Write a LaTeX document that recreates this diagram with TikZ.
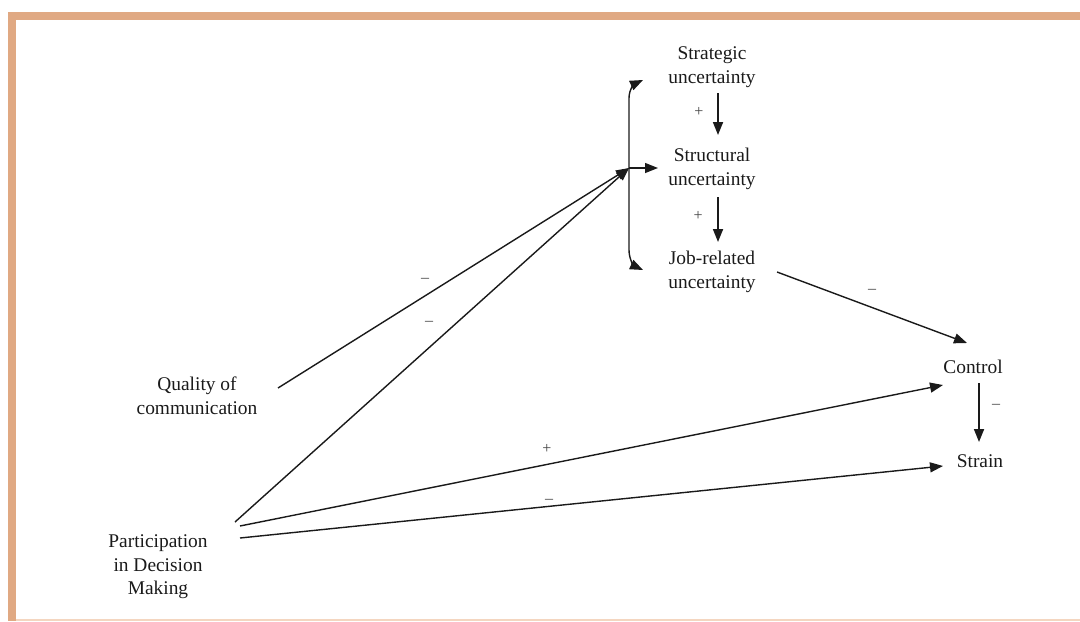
\documentclass[tikz,border=0pt]{standalone}
\usepackage{fontspec}
\setmainfont{Liberation Serif}
\usetikzlibrary{arrows.meta,calc}
\definecolor{frame}{HTML}{E0A983}
\definecolor{framelight}{HTML}{F4D6C0}
\definecolor{ink}{HTML}{1A1A1A}
\definecolor{labelink}{HTML}{444444}
\begin{document}
\begin{tikzpicture}[x=0.5pt,y=-0.5pt,
  concept/.style={align=center,inner sep=0pt,text=ink,font=\fontsize{9.7}{11.8}\selectfont},
  sign/.style={inner sep=0pt,text=labelink,font=\fontsize{8}{8}\selectfont},
  link/.style={draw=ink,line width=0.7pt,-{Triangle[length=6.5pt,width=5pt]}},
  vlink/.style={draw=ink,line width=0.9pt,-{Triangle[length=6.5pt,width=5pt]}}]
\useasboundingbox (0,0) rectangle (1080,621);
% frame
\fill[frame] (8,12) rectangle (1080,20);
\fill[frame] (8,12) rectangle (16,621);
\fill[framelight] (16,619) rectangle (1080,621);
% concepts
\node[concept] (strat) at (712,67) {Strategic\\uncertainty};
\node[concept] (struct) at (712,169) {Structural\\uncertainty};
\node[concept] (job) at (712,272) {Job-related\\uncertainty};
\node[concept] (qual) at (197,396) {Quality of\\communication};
\node[concept] (part) at (158,567) {Participation\\in Decision\\Making};
\node[concept] (control) at (973,367) {Control};
\node[concept] (strain) at (980,461) {Strain};
% hub and bracket ends
\coordinate (hub) at (629,168);
\coordinate (btop) at (643,80);
\coordinate (bbot) at (643,270);
% vertical chain
\draw[vlink] ($(strat)+(6,26)$) -- ($(struct)+(6,-34)$);
\draw[vlink] ($(struct)+(6,28)$) -- ($(job)+(6,-30)$);
\draw[vlink] ($(control)+(6,16)$) -- ($(strain)+(-1,-19)$);
% bracket
\draw[link] (hub) -- (629,98) to[out=90,in=205] (btop);
\draw[link] (hub) -- (629,250) to[out=-90,in=155] (bbot);
\draw[link] (hub) -- ($(struct)+(-54,-1)$);
% long connectors
\draw[link] ($(qual)+(81,-8)$) -- (hub);
\draw[link] ($(part)+(77,-45)$) -- (hub);
\draw[link] ($(part)+(82,-41)$) -- ($(control)+(-30,18)$);
\draw[link] ($(part)+(82,-29)$) -- ($(strain)+(-37,5)$);
\draw[link] ($(job)+(65,0)$) -- ($(control)+(-6,-24)$);
% signs
\node[sign] (s1) at (699,112) {+};
\node[sign] (s2) at (698,216) {+};
\node[sign] (s3) at (425,280) {--};
\node[sign] (s4) at (429,323) {--};
\node[sign] (s5) at (872,291) {--};
\node[sign] (s6) at (547,449) {+};
\node[sign] (s7) at (549,501) {--};
\node[sign] (s8) at (996,406) {--};
\end{tikzpicture}
\end{document}
